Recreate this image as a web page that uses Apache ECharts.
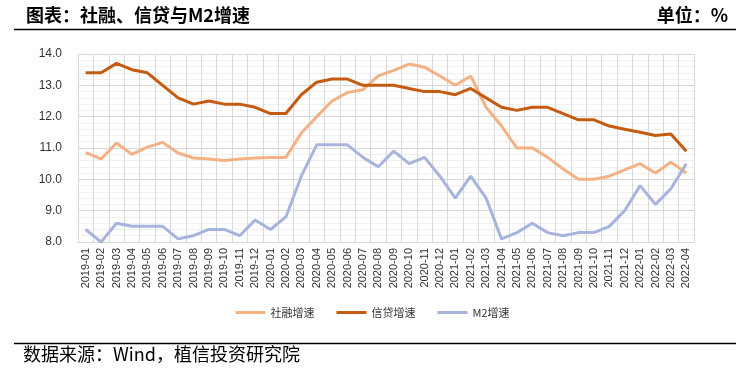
<!DOCTYPE html>
<html>
<head>
<meta charset="utf-8">
<script src="https://cdn.jsdelivr.net/npm/echarts@6/dist/echarts.min.js"></script>
<style>
html,body{margin:0;padding:0;background:#fff;}
#c{width:745px;height:370px;}
</style>
</head>
<body>
<div id="c"></div>
<script>
var months = ["2019-01","2019-02","2019-03","2019-04","2019-05","2019-06","2019-07","2019-08","2019-09","2019-10","2019-11","2019-12",
"2020-01","2020-02","2020-03","2020-04","2020-05","2020-06","2020-07","2020-08","2020-09","2020-10","2020-11","2020-12",
"2021-01","2021-02","2021-03","2021-04","2021-05","2021-06","2021-07","2021-08","2021-09","2021-10","2021-11","2021-12",
"2022-01","2022-02","2022-03","2022-04"];
var socialFinancing = [10.85,10.65,11.16,10.8,11.03,11.18,10.84,10.68,10.65,10.6,10.65,10.68,
10.7,10.7,11.48,12.0,12.5,12.77,12.86,13.3,13.48,13.68,13.58,13.3,
13.0,13.3,12.3,11.7,11.0,11.0,10.7,10.33,10.0,10.0,10.1,10.3,
10.5,10.2,10.55,10.2];
var credit = [13.4,13.4,13.7,13.5,13.4,13.0,12.6,12.4,12.5,12.4,12.4,12.3,
12.1,12.1,12.7,13.1,13.2,13.2,13.0,13.0,13.0,12.9,12.8,12.8,
12.7,12.9,12.6,12.3,12.2,12.3,12.3,12.1,11.9,11.9,11.7,11.6,
11.5,11.4,11.45,10.9];
var m2 = [8.4,8.0,8.6,8.5,8.5,8.5,8.1,8.2,8.4,8.4,8.2,8.7,
8.4,8.8,10.1,11.1,11.1,11.1,10.7,10.4,10.9,10.5,10.7,10.1,
9.4,10.1,9.4,8.1,8.3,8.6,8.3,8.2,8.3,8.3,8.5,9.0,
9.8,9.2,9.7,10.5];
var seriesNames = ["社融增速","信贷增速","M2增速"];
var titleText = "图表：社融、信贷与M2增速";
var unitText = "单位：%";
var sourceText = "数据来源：Wind，植信投资研究院";

var chart = echarts.init(document.getElementById('c'), null, {renderer:'canvas'});
var cjk = '"Noto Sans CJK SC", "Liberation Sans", sans-serif';
var colors = ['#F4B183','#C55A11','#A6B4DE'];
chart.setOption({
  animation:false,
  backgroundColor:'#fff',
  color: colors,
  grid:{left:78,right:51,top:54,bottom:128,containLabel:false},
  legend:{
    bottom:47,left:'center',
    itemWidth:30,itemHeight:3,itemGap:22,
    icon:'rect',
    textStyle:{fontFamily:cjk,fontSize:11,color:'#333'},
    data:seriesNames
  },
  xAxis:{
    type:'category',data:months,boundaryGap:true,
    axisLine:{show:true,lineStyle:{color:'#d9d9d9'}},
    axisTick:{show:false},
    splitLine:{show:true,interval:0,lineStyle:{color:'#d9d9d9',width:1}},
    axisLabel:{interval:0,rotate:90,fontSize:11,color:'#333',fontFamily:'"Liberation Sans", Arial, sans-serif',margin:6}
  },
  yAxis:{
    type:'value',min:8,max:14,interval:1,
    axisLine:{show:false},axisTick:{show:false},
    axisLabel:{formatter:function(v){return v.toFixed(1);},fontSize:12,color:'#333',margin:16,fontFamily:'"Liberation Sans", Arial, sans-serif'},
    splitLine:{show:true,lineStyle:{color:'#d9d9d9',width:1}},
    minorTick:{show:false,splitNumber:5},
    minorSplitLine:{show:true,lineStyle:{color:'#f0f0f0',width:1}}
  },
  series:[
    {name:seriesNames[0],type:'line',data:socialFinancing,symbol:'none',lineStyle:{width:3,color:colors[0]},itemStyle:{color:colors[0]}},
    {name:seriesNames[1],type:'line',data:credit,symbol:'none',lineStyle:{width:3,color:colors[1]},itemStyle:{color:colors[1]}},
    {name:seriesNames[2],type:'line',data:m2,symbol:'none',lineStyle:{width:3,color:colors[2]},itemStyle:{color:colors[2]}}
  ],
  graphic:[
    {type:'text',left:26,top:6,style:{text:titleText,fontFamily:cjk,fontSize:18,fontWeight:'bold',fill:'#000'}},
    {type:'text',right:17,top:6,style:{text:unitText,fontFamily:cjk,fontSize:18,fontWeight:'bold',fill:'#000'}},
    {type:'line',shape:{x1:14,y1:29.5,x2:736,y2:29.5},style:{stroke:'#000',lineWidth:1.5}},
    {type:'line',shape:{x1:14,y1:343.5,x2:736,y2:343.5},style:{stroke:'#000',lineWidth:1.5}},
    {type:'text',left:23,top:345,style:{text:sourceText,fontFamily:cjk,fontSize:18,fill:'#000'}}
  ]
});
</script>
</body>
</html>
